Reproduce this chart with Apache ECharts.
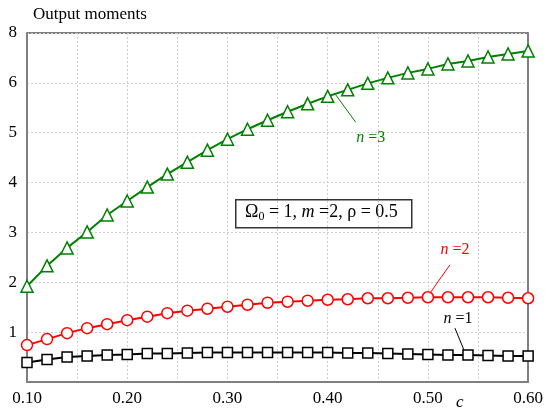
<!DOCTYPE html>
<html>
<head>
<meta charset="utf-8">
<script src="https://cdn.jsdelivr.net/npm/echarts@6/dist/echarts.min.js"></script>
<style>
  html, body { margin: 0; padding: 0; background: #fff; }
  #chart { width: 546px; height: 415px; }
</style>
</head>
<body>
<div id="chart"></div>
<script>
// c values, 0.10 .. 0.60 step 0.02
const cValues = [0.10, 0.12, 0.14, 0.16, 0.18, 0.20, 0.22, 0.24, 0.26, 0.28, 0.30, 0.32, 0.34,
  0.36, 0.38, 0.40, 0.42, 0.44, 0.46, 0.48, 0.50, 0.52, 0.54, 0.56, 0.58, 0.60];

const n1 = [0.39, 0.45, 0.50, 0.52, 0.54, 0.55, 0.57, 0.57, 0.58, 0.59, 0.59, 0.59, 0.59,
  0.59, 0.59, 0.59, 0.58, 0.58, 0.57, 0.56, 0.55, 0.54, 0.54, 0.53, 0.52, 0.52];
const n2 = [0.74, 0.86, 0.98, 1.08, 1.16, 1.24, 1.31, 1.38, 1.43, 1.47, 1.51, 1.55, 1.59,
  1.61, 1.63, 1.65, 1.66, 1.68, 1.68, 1.69, 1.70, 1.70, 1.70, 1.70, 1.69, 1.68];
const n3 = [1.92, 2.33, 2.69, 3.01, 3.35, 3.63, 3.91, 4.17, 4.41, 4.65, 4.87, 5.07, 5.25,
  5.42, 5.58, 5.73, 5.86, 5.99, 6.10, 6.20, 6.28, 6.38, 6.44, 6.52, 6.58, 6.64];

const xTickLabels = ['0.10', '', '0.20', '', '0.30', '', '0.40', '', '0.50', '', '0.60'];
const yTickLabels = ['', '1', '2', '3', '4', '5', '6', '8'];

const serif = 'Liberation Serif';

const chart = echarts.init(document.getElementById('chart'));

function pairs(ys) {
  return cValues.map((c, i) => [c, ys[i]]);
}

function annotation(color, txt, at, from, to) {
  return {
    markPoint: {
      symbol: 'circle',
      symbolSize: 0,
      silent: true,
      data: [{ coord: at }],
      label: {
        show: true,
        position: 'inside',
        formatter: '{i|n} =' + txt,
        rich: {
          i: { fontFamily: serif, fontStyle: 'italic', fontSize: 16, color },
        },
        fontFamily: serif,
        fontSize: 16,
        color,
      },
    },
    markLine: {
      symbol: 'none',
      silent: true,
      lineStyle: { color, width: 1, type: 'solid' },
      label: { show: false },
      data: [[{ coord: from }, { coord: to }]],
    },
  };
}

const gridStyle = { show: true, lineStyle: { color: '#cfcfcf', type: [2, 2], width: 1 } };

chart.setOption({
  animation: false,
  grid: { left: 27, right: 14, top: 33, bottom: 33, show: true, borderColor: '#000', borderWidth: 1 },
  xAxis: {
    type: 'value',
    min: 0.1,
    max: 0.6,
    interval: 0.05,
    axisLine: { show: true, lineStyle: { color: '#7f7f7f', width: 2 } },
    axisTick: { show: false },
    splitLine: gridStyle,
    axisLabel: {
      color: '#000',
      fontFamily: serif,
      fontSize: 17,
      margin: 8,
      formatter: (v) => xTickLabels[Math.round((v - 0.1) / 0.05)] || '',
    },
  },
  yAxis: [
    {
      type: 'value',
      min: 0,
      max: 7,
      interval: 1,
      axisLine: { show: true, lineStyle: { color: '#7f7f7f', width: 2 } },
      axisTick: { show: false },
      splitLine: gridStyle,
      axisLabel: {
        color: '#000',
        fontFamily: serif,
        fontSize: 17,
        margin: 10,
        formatter: (v) => yTickLabels[Math.round(v)] || '',
      },
    },
    {
      type: 'value',
      position: 'right',
      min: 0,
      max: 7,
      interval: 1,
      axisLine: { show: true, lineStyle: { color: '#7f7f7f', width: 2 } },
      axisTick: { show: false },
      axisLabel: { show: false },
      splitLine: { show: false },
    },
  ],
  series: [
    Object.assign({
      name: 'n=1',
      type: 'line',
      data: pairs(n1),
      symbol: 'rect',
      symbolSize: 10,
      lineStyle: { color: '#000', width: 2 },
      itemStyle: { color: '#fff', borderColor: '#000', borderWidth: 1.5 },
    }, annotation('#000', '1', [0.53, 1.26], [0.527, 1.08], [0.536, 0.64])),
    Object.assign({
      name: 'n=2',
      type: 'line',
      data: pairs(n2),
      symbol: 'circle',
      symbolSize: 11,
      lineStyle: { color: '#ff0000', width: 2 },
      itemStyle: { color: '#fff', borderColor: '#ff0000', borderWidth: 1.5 },
    }, annotation('#ff0000', '2', [0.527, 2.65], [0.522, 2.35], [0.502, 1.78])),
    Object.assign({
      name: 'n=3',
      type: 'line',
      data: pairs(n3),
      symbol: 'triangle',
      symbolSize: 12,
      lineStyle: { color: '#008000', width: 2 },
      itemStyle: { color: '#fff', borderColor: '#008000', borderWidth: 1.5 },
    }, annotation('#008000', '3', [0.443, 4.89], [0.408, 5.76], [0.428, 5.21])),
  ],
  graphic: [
    {
      type: 'text',
      left: 33,
      top: 6,
      style: { text: 'Output moments', font: '17px "Liberation Serif"', fill: '#000' },
    },
    {
      type: 'text',
      left: 456,
      top: 394,
      style: { text: 'c', font: 'italic 17px "Liberation Serif"', fill: '#000' },
    },
    {
      type: 'rect',
      left: 235,
      top: 199,
      shape: { width: 176, height: 28 },
      style: { fill: '#fff', stroke: '#333', lineWidth: 1.5 },
    },
    {
      type: 'text',
      left: 245,
      top: 203,
      style: {
        text: '{a|Ω}{s|0}{a| = 1, }{i|m}{a| =2, ρ = 0.5}',
        rich: {
          a: { font: '18px "Liberation Serif"', fill: '#000', lineHeight: 22 },
          i: { font: 'italic 18px "Liberation Serif"', fill: '#000', lineHeight: 22 },
          s: { font: '12px "Liberation Serif"', fill: '#000', verticalAlign: 'bottom', lineHeight: 10 },
        },
      },
    },
  ],
});
</script>
</body>
</html>
